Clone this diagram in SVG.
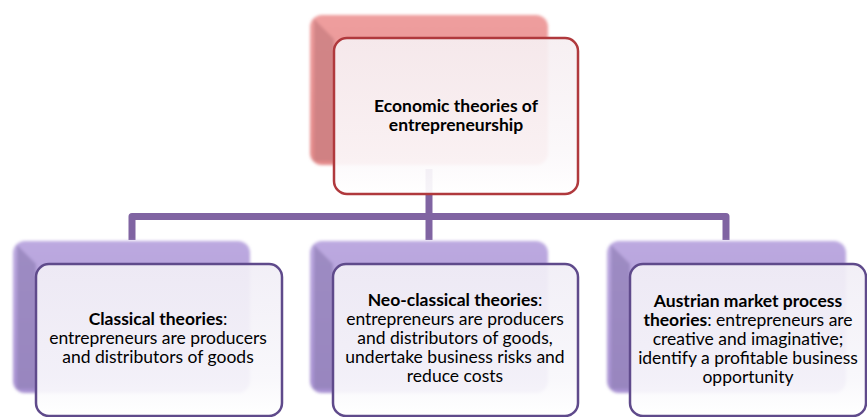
<svg xmlns="http://www.w3.org/2000/svg" width="867" height="417" viewBox="0 0 867 417">
<defs>
  <linearGradient id="gRedBack" x1="0" y1="0" x2="0" y2="1">
    <stop offset="0" stop-color="#ee9e9e"/>
    <stop offset="1" stop-color="#e48a8a"/>
  </linearGradient>
  <linearGradient id="gPurBack" x1="0" y1="0" x2="0" y2="1">
    <stop offset="0" stop-color="#bca9e0"/>
    <stop offset="1" stop-color="#a892d2"/>
  </linearGradient>
  <linearGradient id="gRedFront" x1="0" y1="0" x2="0" y2="1">
    <stop offset="0" stop-color="#f6eef1"/>
    <stop offset="0.75" stop-color="#fbf8fa"/>
    <stop offset="1" stop-color="#ffffff"/>
  </linearGradient>
  <linearGradient id="gPurFront" x1="0" y1="0" x2="0" y2="1">
    <stop offset="0" stop-color="#f1eef6"/>
    <stop offset="0.75" stop-color="#f8f7fb"/>
    <stop offset="1" stop-color="#ffffff"/>
  </linearGradient>
  <filter id="soft" x="-5%" y="-5%" width="110%" height="110%">
    <feGaussianBlur stdDeviation="1.4"/>
  </filter>
</defs>
<style>
  .conn { fill: none; stroke: #8064a2; stroke-width: 7; stroke-linejoin: round; }
  .backR { fill: url(#gRedBack); }
  .backP { fill: url(#gPurBack); }
  .bevR { fill: #c87d80; opacity: 0.75; }
  .bevP { fill: #9381b8; opacity: 0.75; }
  .frontR { fill: url(#gRedFront); fill-opacity: 0.93; stroke: #b0393d; stroke-width: 2.5; }
  .frontP { fill: url(#gPurFront); fill-opacity: 0.93; stroke: #5f4a8b; stroke-width: 2.5; }
  text { font-family: "Lato", "Open Sans", "Liberation Sans", sans-serif; font-size: 17.5px; fill: #000; text-anchor: middle; }
  .b { font-weight: bold; }
</style>

<g id="connectors">
  <path class="conn" d="M429,169 V240"/>
  <path class="conn" d="M132,240 V216.5 H726 V240"/>
</g>

<g id="node-economic">
  <g filter="url(#soft)">
    <rect class="backR" x="310" y="15" width="238" height="150" rx="12"/>
    <polygon class="bevR" points="314,19 334,39 334,161 314,161"/>
  </g>
  <rect class="frontR" x="334" y="38" width="244" height="156" rx="13"/>
  <text class="b" x="456" y="112">Economic theories of</text>
  <text class="b" x="456" y="131">entrepreneurship</text>
</g>

<g id="node-classical">
  <g filter="url(#soft)">
    <rect class="backP" x="13" y="241" width="237" height="152" rx="12"/>
    <polygon class="bevP" points="17,245 36,264 36,389 17,389"/>
  </g>
  <rect class="frontP" x="36" y="264" width="246" height="152" rx="13"/>
  <text x="158" y="325"><tspan class="b">Classical theories</tspan>:</text>
  <text x="158" y="344">entrepreneurs are producers</text>
  <text x="158" y="363">and distributors of goods</text>
</g>

<g id="node-neoclassical">
  <g filter="url(#soft)">
    <rect class="backP" x="310" y="241" width="238" height="152" rx="12"/>
    <polygon class="bevP" points="314,245 333,264 333,389 314,389"/>
  </g>
  <rect class="frontP" x="333" y="264" width="245" height="152" rx="13"/>
  <text x="455" y="306"><tspan class="b">Neo-classical theories</tspan>:</text>
  <text x="455" y="325">entrepreneurs are producers</text>
  <text x="455" y="344">and distributors of goods,</text>
  <text x="455" y="363">undertake business risks and</text>
  <text x="455" y="382">reduce costs</text>
</g>

<g id="node-austrian">
  <g filter="url(#soft)">
    <rect class="backP" x="607" y="241" width="239" height="152" rx="12"/>
    <polygon class="bevP" points="611,245 630,264 630,389 611,389"/>
  </g>
  <rect class="frontP" x="630" y="264" width="236" height="152" rx="13"/>
  <text class="b" x="748" y="307">Austrian market process</text>
  <text x="748" y="326"><tspan class="b">theories</tspan>: entrepreneurs are</text>
  <text x="748" y="345">creative and imaginative;</text>
  <text x="748" y="364">identify a profitable business</text>
  <text x="748" y="383">opportunity</text>
</g>
</svg>
